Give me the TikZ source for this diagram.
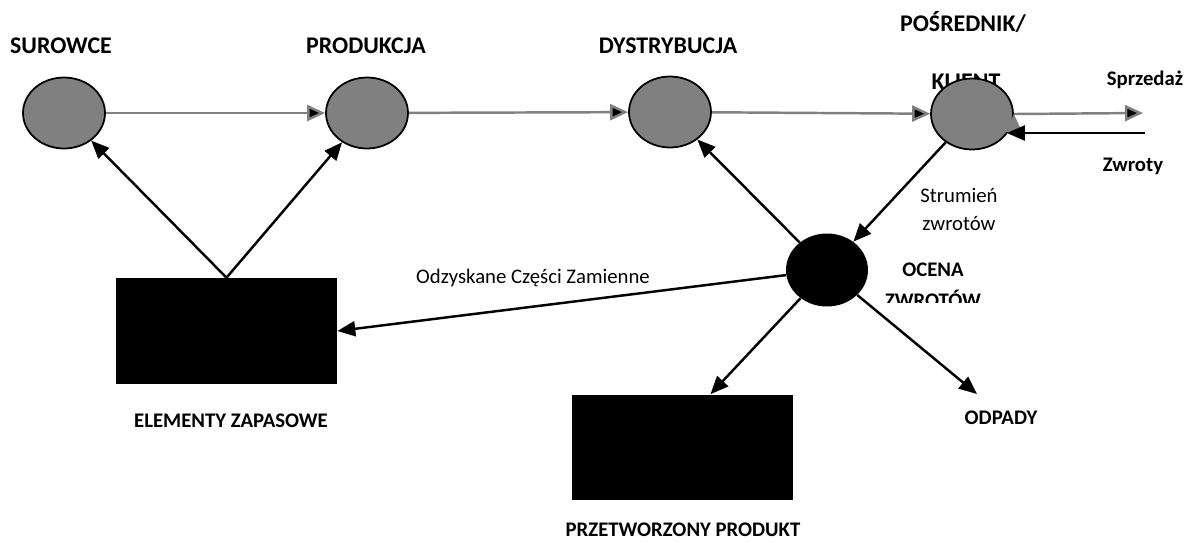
\documentclass[tikz,border=0pt]{standalone}
\usepackage{fontspec}
\setmainfont{Carlito}
\usepackage{tikz}
\usetikzlibrary{arrows.meta,shapes}

\tikzset{
	stage/.style={ellipse,draw,fill=gray,line width=1pt,minimum width=1.64cm,minimum height=1.42cm,inner sep=0pt},
	ocena/.style={ellipse,fill=black,minimum width=1.64cm,minimum height=1.46cm,inner sep=0pt},
	store/.style={rectangle,fill=black,minimum width=4.42cm,minimum height=2.12cm,inner sep=0pt},
	bigtitle/.style={font=\bfseries\fontsize{13.6}{15}\selectfont,inner sep=0pt},
	title/.style={font=\bfseries\fontsize{11.8}{14}\selectfont,inner sep=0pt},
	small/.style={font=\fontsize{11.8}{14}\selectfont,inner sep=0pt},
	flow/.style={->,>={Triangle[length=0.36cm,width=0.32cm]},draw=gray,line width=1.4pt},
	back/.style={->,>={Triangle[length=0.36cm,width=0.3cm]},draw=black,line width=1.4pt}
}

\begin{document}
\begin{tikzpicture}[x=0.02cm,y=-0.02cm]
	\useasboundingbox (0,0) rectangle (1191,542);
	%
	%  LABELS
	%
	\node[bigtitle] (lsur) at (61,46) {SUROWCE};
	\node[bigtitle] (lprod) at (366,46) {PRODUKCJA};
	\node[bigtitle] (ldys) at (668,46) {DYSTRYBUCJA};
	\node[bigtitle] (lpos) at (963,22) {POŚREDNIK/};
	\node[bigtitle] (lkl) at (966,82) {KLIENT};
	%
	%  CHAIN
	%
	\node[stage] (a) at (64,113) {};
	\node[stage] (b) at (367,113) {};
	\node[stage] (c) at (670,112) {};
	\node[stage] (k) at (972,114) {};
	\node[ocena] (o) at (827,270) {};
	\node[store] (e) at (226.5,331) {};
	\node[store] (f) at (682.5,447.5) {};
	%
	\coordinate (sp) at (1143,113);
	\coordinate (zw) at (1145,133);
	\coordinate (od) at (977,394);
	%
	\path[flow]
	(a) edge (b)
	(b) edge (c)
	(c) edge (k)
	(k.east) edge (sp);
	%
	\path[back]
	(zw) edge (zw -| k.-30)
	(e.north) edge (a)
	(e.north) edge (b)
	(k) edge (o)
	(o) edge (c)
	(o) edge (e.east)
	(o) edge ([xshift=0.56cm]f.north)
	(o) edge (od);
	%
	%  TEXT
	%
	\node[title] (lspr) at (1145,80) {Sprzedaż};
	\node[title] (lzw) at (1133,166) {Zwroty};
	\node[small] (lstr1) at (959,195) {Strumień};
	\node[small] (lstr2) at (959,223) {zwrotów};
	\node[small] (lodz) at (533,278) {Odzyskane Części Zamienne};
	\node[title] (loc1) at (933,270) {OCENA};
	\begin{scope}
		\clip (860,285) rectangle (1000,302);
		\node[title] (loc2) at (933,299) {ZWROTÓW};
	\end{scope}
	\node[title] (lel) at (231,421) {ELEMENTY ZAPASOWE};
	\node[title] (lpr) at (683,530) {PRZETWORZONY PRODUKT};
	\node[title] (lodp) at (1001,418) {ODPADY};
\end{tikzpicture}
\end{document}
